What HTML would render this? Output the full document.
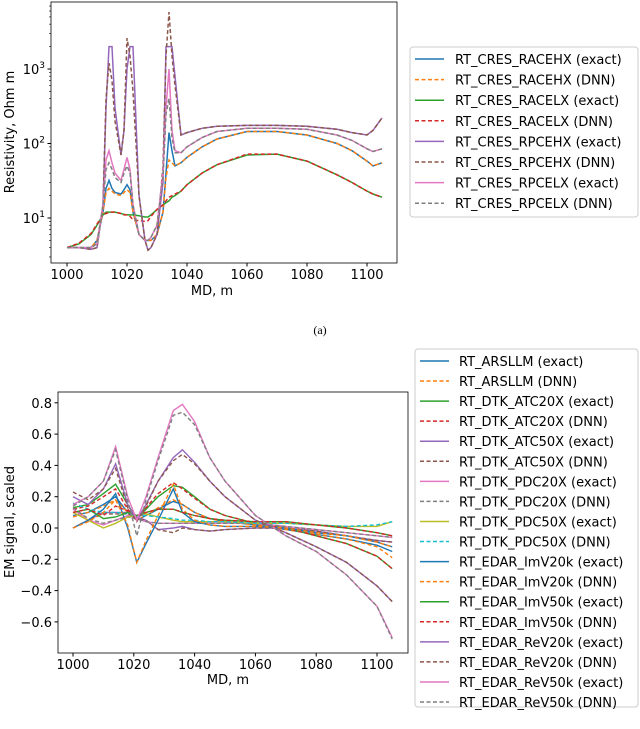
<!DOCTYPE html>
<html><head><meta charset="utf-8"><style>
body{margin:0;background:#fff;width:640px;height:724px;overflow:hidden;font-family:"Liberation Sans","DejaVu Sans",sans-serif}
svg text{font-family:"DejaVu Sans","Liberation Sans",sans-serif;fill:#000}
</style></head><body>
<svg id="s" width="640" height="724"></svg>
<script>
// ---- Top chart data ----
const topMD=[1000,1004,1008,1010,1012,1013,1014,1015,1016,1018,1019,1020,1021,1022,1024,1026,1027,1028,1030,1032,1033,1034,1035,1036,1038,1040,1045,1050,1060,1070,1080,1090,1095,1100,1102,1105];
const topNames=["RT_CRES_RACEHX (exact)","RT_CRES_RACEHX (DNN)","RT_CRES_RACELX (exact)","RT_CRES_RACELX (DNN)","RT_CRES_RPCEHX (exact)","RT_CRES_RPCEHX (DNN)","RT_CRES_RPCELX (exact)","RT_CRES_RPCELX (DNN)"];
const racehx=[4,4,4,5,12,25,32,25,22,21,24,28,24,12,6,5,5,5,6,12,40,140,80,50,55,65,90,115,145,145,130,100,80,58,50,55];
const racehxDnn=[4,4,4,5,12,22,25,23,21,20,22,24,22,12,6,5,5,5,6,12,35,60,55,50,55,65,90,115,145,145,130,100,80,58,50,55];
const racelx=[4,4.5,6,8,11,12,12,12,12,11.5,11.2,11,11,11,10.7,10.3,10.3,11,13,15,16,17,19,20,23,28,40,52,70,72,58,38,30,23,21,19];
const racelxDnn=[4,4.6,6.2,8.3,11,11.5,11.8,12,12,11.5,11,11,10.5,9.5,9.2,9,9.2,10.5,13,15,17,19,20,21,23,28,40,52,72,72,58,38,30,23,21,19];
const rpcehx=[4,4,3.8,4,15,300,2000,2000,300,70,150,1000,2000,2000,20,5,3.7,4,6,30,2000,2000,2000,800,130,140,160,170,175,175,170,155,140,130,150,220];
const rpcehxDnn=[4,4,3.8,4,15,400,1200,700,200,70,150,2600,1500,500,20,5,3.7,4,6,50,1500,5800,1500,600,130,140,160,170,175,175,170,155,140,130,150,220];
const rpcelx=[4,4,4,4.5,15,60,80,55,40,32,45,65,45,15,6,5,5,5.5,8,40,300,1000,150,80,75,90,120,145,160,160,155,130,110,85,78,85];
const rpcelxDnn=[4,4,4,4.5,15,45,55,45,35,30,40,50,40,15,6,5,5,5.5,8,35,250,400,120,75,75,90,120,145,160,160,155,130,110,85,78,85];
const topSeries=[racehx,racehxDnn,racelx,racelxDnn,rpcehx,rpcehxDnn,rpcelx,rpcelxDnn];
const xTicks=[1000,1020,1040,1060,1080,1100];
const topYTicks=[1,2,3];
// ---- Bottom chart data ----
const botMD=[1000,1005,1010,1014,1018,1021,1024,1028,1033,1036,1040,1045,1050,1060,1070,1080,1090,1100,1105];
const botNames=["RT_ARSLLM (exact)","RT_ARSLLM (DNN)","RT_DTK_ATC20X (exact)","RT_DTK_ATC20X (DNN)","RT_DTK_ATC50X (exact)","RT_DTK_ATC50X (DNN)","RT_DTK_PDC20X (exact)","RT_DTK_PDC20X (DNN)","RT_DTK_PDC50X (exact)","RT_DTK_PDC50X (DNN)","RT_EDAR_ImV20k (exact)","RT_EDAR_ImV20k (DNN)","RT_EDAR_ImV50k (exact)","RT_EDAR_ImV50k (DNN)","RT_EDAR_ReV20k (exact)","RT_EDAR_ReV20k (DNN)","RT_EDAR_ReV50k (exact)","RT_EDAR_ReV50k (DNN)"];
const arsllm=[0.08,0.1,0.15,0.2,0.1,0.05,0.08,0.12,0.17,0.15,0.1,0.06,0.04,0.02,-0.01,-0.04,-0.07,-0.11,-0.15];
const arsllmDnn=[0.07,0.1,0.14,0.18,0.1,0.05,0.08,0.13,0.18,0.15,0.1,0.06,0.04,0.02,-0.01,-0.04,-0.07,-0.12,-0.19];
const atc20=[0.13,0.15,0.22,0.28,0.15,0.06,0.12,0.2,0.27,0.26,0.2,0.12,0.08,0.03,0,-0.05,-0.1,-0.18,-0.26];
const atc20Dnn=[0.12,0.14,0.2,0.25,0.12,0.06,0.13,0.22,0.29,0.25,0.19,0.12,0.08,0.03,0,-0.05,-0.1,-0.18,-0.26];
const atc50=[0.0,0.05,0.1,0.1,0.1,0.07,0.05,-0.01,0.0,0.01,-0.01,-0.02,-0.01,0.0,0,-0.02,-0.05,-0.08,-0.09];
const atc50Dnn=[0.0,0.05,0.09,0.09,0.09,0.06,0.05,-0.01,-0.03,0.0,-0.01,-0.02,-0.01,0.0,0,-0.02,-0.05,-0.08,-0.09];
const pdc20=[0.12,0.05,0.02,0.05,0.08,0.06,0.04,0.03,0.03,0.03,0.03,0.03,0.03,0.03,0.01,-0.01,-0.03,-0.05,-0.06];
const pdc20Dnn=[0.13,0.06,0.03,0.05,0.07,0.06,0.04,0.03,0.03,0.03,0.03,0.03,0.03,0.03,0.01,-0.01,-0.03,-0.05,-0.06];
const pdc50=[0.1,0.05,0.0,0.03,0.07,0.08,0.09,0.07,0.05,0.04,0.04,0.04,0.04,0.03,0.03,0.02,0.01,0.01,0.04];
const pdc50Dnn=[0.16,0.12,0.1,0.1,0.09,0.08,0.08,0.07,0.06,0.05,0.05,0.04,0.04,0.03,0.03,0.02,0.01,0.02,0.04];
const imv20=[0,0.05,0.12,0.22,0,-0.22,-0.1,0.05,0.25,0.1,0.04,0.02,0.01,0.01,0,-0.03,-0.05,-0.09,-0.12];
const imv20Dnn=[0,0.04,0.1,0.18,0.02,-0.22,-0.08,0.08,0.28,0.12,0.05,0.02,0.01,0.01,0,-0.03,-0.05,-0.09,-0.12];
const imv50=[0.1,0.12,0.06,0.07,0.1,0.08,0.1,0.12,0.12,0.1,0.08,0.06,0.05,0.04,0.04,0.02,0.0,-0.03,-0.05];
const imv50Dnn=[0.1,0.12,0.08,0.14,0.11,0.08,0.1,0.12,0.12,0.1,0.08,0.06,0.05,0.04,0.04,0.02,0.0,-0.03,-0.05];
const rev20=[0.2,0.15,0.25,0.41,0.15,0.05,0.15,0.3,0.45,0.5,0.42,0.3,0.2,0.05,-0.03,-0.12,-0.22,-0.37,-0.47];
const rev20Dnn=[0.23,0.18,0.25,0.38,0.13,0.04,0.14,0.3,0.43,0.47,0.41,0.3,0.2,0.05,-0.03,-0.12,-0.22,-0.37,-0.47];
const rev50=[0.15,0.2,0.3,0.52,0.2,0.05,0.2,0.45,0.75,0.79,0.68,0.45,0.3,0.08,-0.05,-0.15,-0.3,-0.5,-0.7];
const rev50Dnn=[0.14,0.2,0.3,0.5,0.18,-0.05,0.18,0.43,0.72,0.74,0.66,0.45,0.3,0.08,-0.05,-0.15,-0.3,-0.5,-0.71];
const botSeries=[arsllm,arsllmDnn,atc20,atc20Dnn,atc50,atc50Dnn,pdc20,pdc20Dnn,pdc50,pdc50Dnn,imv20,imv20Dnn,imv50,imv50Dnn,rev20,rev20Dnn,rev50,rev50Dnn];
const botYTicks=[0.8,0.6,0.4,0.2,0.0,-0.2,-0.4,-0.6];

const colors=["#1f77b4","#ff7f0e","#2ca02c","#d62728","#9467bd","#8c564b","#e377c2","#7f7f7f","#bcbd22","#17becf"];
const NS="http://www.w3.org/2000/svg";
const svg=document.getElementById('s');
function mk(tag,attrs,parent,name,inter){const e=document.createElementNS(NS,tag);for(const k in attrs)e.setAttribute(k,attrs[k]);(parent||svg).appendChild(e);


return e;}
function txt(x,y,s,anchor,size,parent,name){const t=mk('text',{x:x,y:y,'text-anchor':anchor||'middle','font-size':size||13},parent,name);t.textContent=s;return t;}

// ---- Top chart ----
const T={l:51,r:397,t:2,b:263};
const tx=v=>67+(v-1000)*3;
const ty=v=>218-(Math.log10(v)-1)*74.5;
const gTop=mk('g',{},svg,'resistivity-chart');
topSeries.forEach((s,i)=>{
  const p=mk('polyline',{points:s.map((v,j)=>tx(topMD[j]).toFixed(1)+','+ty(v).toFixed(1)).join(' '),fill:'none',stroke:colors[i%10],'stroke-width':1.5,'stroke-dasharray':i%2?'4,2.5':'none'},gTop,'series-line');
  
});
mk('rect',{x:T.l,y:T.t,width:T.r-T.l,height:T.b-T.t,fill:'none',stroke:'#000','stroke-width':0.8},gTop,'plot-frame');
xTicks.forEach(v=>{mk('line',{x1:tx(v),x2:tx(v),y1:T.b,y2:T.b+3.5,stroke:'#000'},gTop,'x-tick');txt(tx(v),T.b+16,String(v),'middle',13,gTop,'x-tick-label');});
topYTicks.forEach(e=>{const y=ty(Math.pow(10,e));mk('line',{x1:T.l-3.5,x2:T.l,y1:y,y2:y,stroke:'#000'},gTop,'y-tick');
  const t=txt(T.l-6,y+5,'10','end',13,gTop,'y-tick-label');const ts=document.createElementNS(NS,'tspan');ts.setAttribute('dy','-6');ts.setAttribute('font-size','9');ts.textContent=String(e);t.appendChild(ts);});
for(let d=0;d<4;d++)for(let m=2;m<10;m++){const v=m*Math.pow(10,d);const y=ty(v);if(y>T.t&&y<T.b)mk('line',{x1:T.l-2,x2:T.l,y1:y,y2:y,stroke:'#000','stroke-width':0.6},gTop,'y-minor-tick');}
txt(212,295,'MD, m','middle',13,gTop,'x-axis-title');
txt(0,0,'Resistivity, Ohm m','middle',13,gTop,'y-axis-title').setAttribute('transform','translate(14,132) rotate(-90)');
txt(320,334,'(a)','middle',12,gTop,'subfigure-label').setAttribute('style','font-family:"Liberation Serif",serif');
// legend
const lgT=mk('g',{},svg,'legend');
mk('rect',{x:410,y:47,width:228,height:170,rx:3,fill:'#fff',stroke:'#ccc'},lgT,'legend-box');
topNames.forEach((n,i)=>{const y=59+i*20.6;
  mk('line',{x1:415,x2:444,y1:y,y2:y,stroke:colors[i%10],'stroke-width':1.5,'stroke-dasharray':i%2?'4,2.5':'none'},lgT,'legend-swatch');
  txt(455,y+5,n,'start',13,lgT,'legend-entry');});

// ---- Bottom chart ----
const B={l:58,r:408,t:392,b:653};
const bx=v=>73+(v-1000)*3.04;
const by=v=>528-v*156.5;
const gBot=mk('g',{},svg,'em-signal-chart');
botSeries.forEach((s,i)=>{
  const p=mk('polyline',{points:s.map((v,j)=>bx(botMD[j]).toFixed(1)+','+by(v).toFixed(1)).join(' '),fill:'none',stroke:colors[i%10],'stroke-width':1.4,'stroke-dasharray':i%2?'4,2.5':'none'},gBot,'series-line');
  
});
mk('rect',{x:B.l,y:B.t,width:B.r-B.l,height:B.b-B.t,fill:'none',stroke:'#000','stroke-width':0.8},gBot,'plot-frame');
xTicks.forEach(v=>{mk('line',{x1:bx(v),x2:bx(v),y1:B.b,y2:B.b+3.5,stroke:'#000'},gBot,'x-tick');txt(bx(v),B.b+16,String(v),'middle',13,gBot,'x-tick-label');});
botYTicks.forEach(v=>{const y=by(v);mk('line',{x1:B.l-3.5,x2:B.l,y1:y,y2:y,stroke:'#000'},gBot,'y-tick');
  txt(B.l-6,y+5,(v<0?'\u2212':'')+Math.abs(v).toFixed(1),'end',13,gBot,'y-tick-label');});
txt(228,684,'MD, m','middle',13,gBot,'x-axis-title');
txt(0,0,'EM signal, scaled','middle',13,gBot,'y-axis-title').setAttribute('transform','translate(14,522) rotate(-90)');
const lgB=mk('g',{},svg,'legend');
mk('rect',{x:415,y:349,width:223,height:358,rx:3,fill:'#fff',stroke:'#ccc'},lgB,'legend-box');
botNames.forEach((n,i)=>{const y=361+i*20.06;
  mk('line',{x1:420,x2:449,y1:y,y2:y,stroke:colors[i%10],'stroke-width':1.5,'stroke-dasharray':i%2?'4,2.5':'none'},lgB,'legend-swatch');
  txt(459,y+5,n,'start',13,lgB,'legend-entry');});
</script>
</body></html>
